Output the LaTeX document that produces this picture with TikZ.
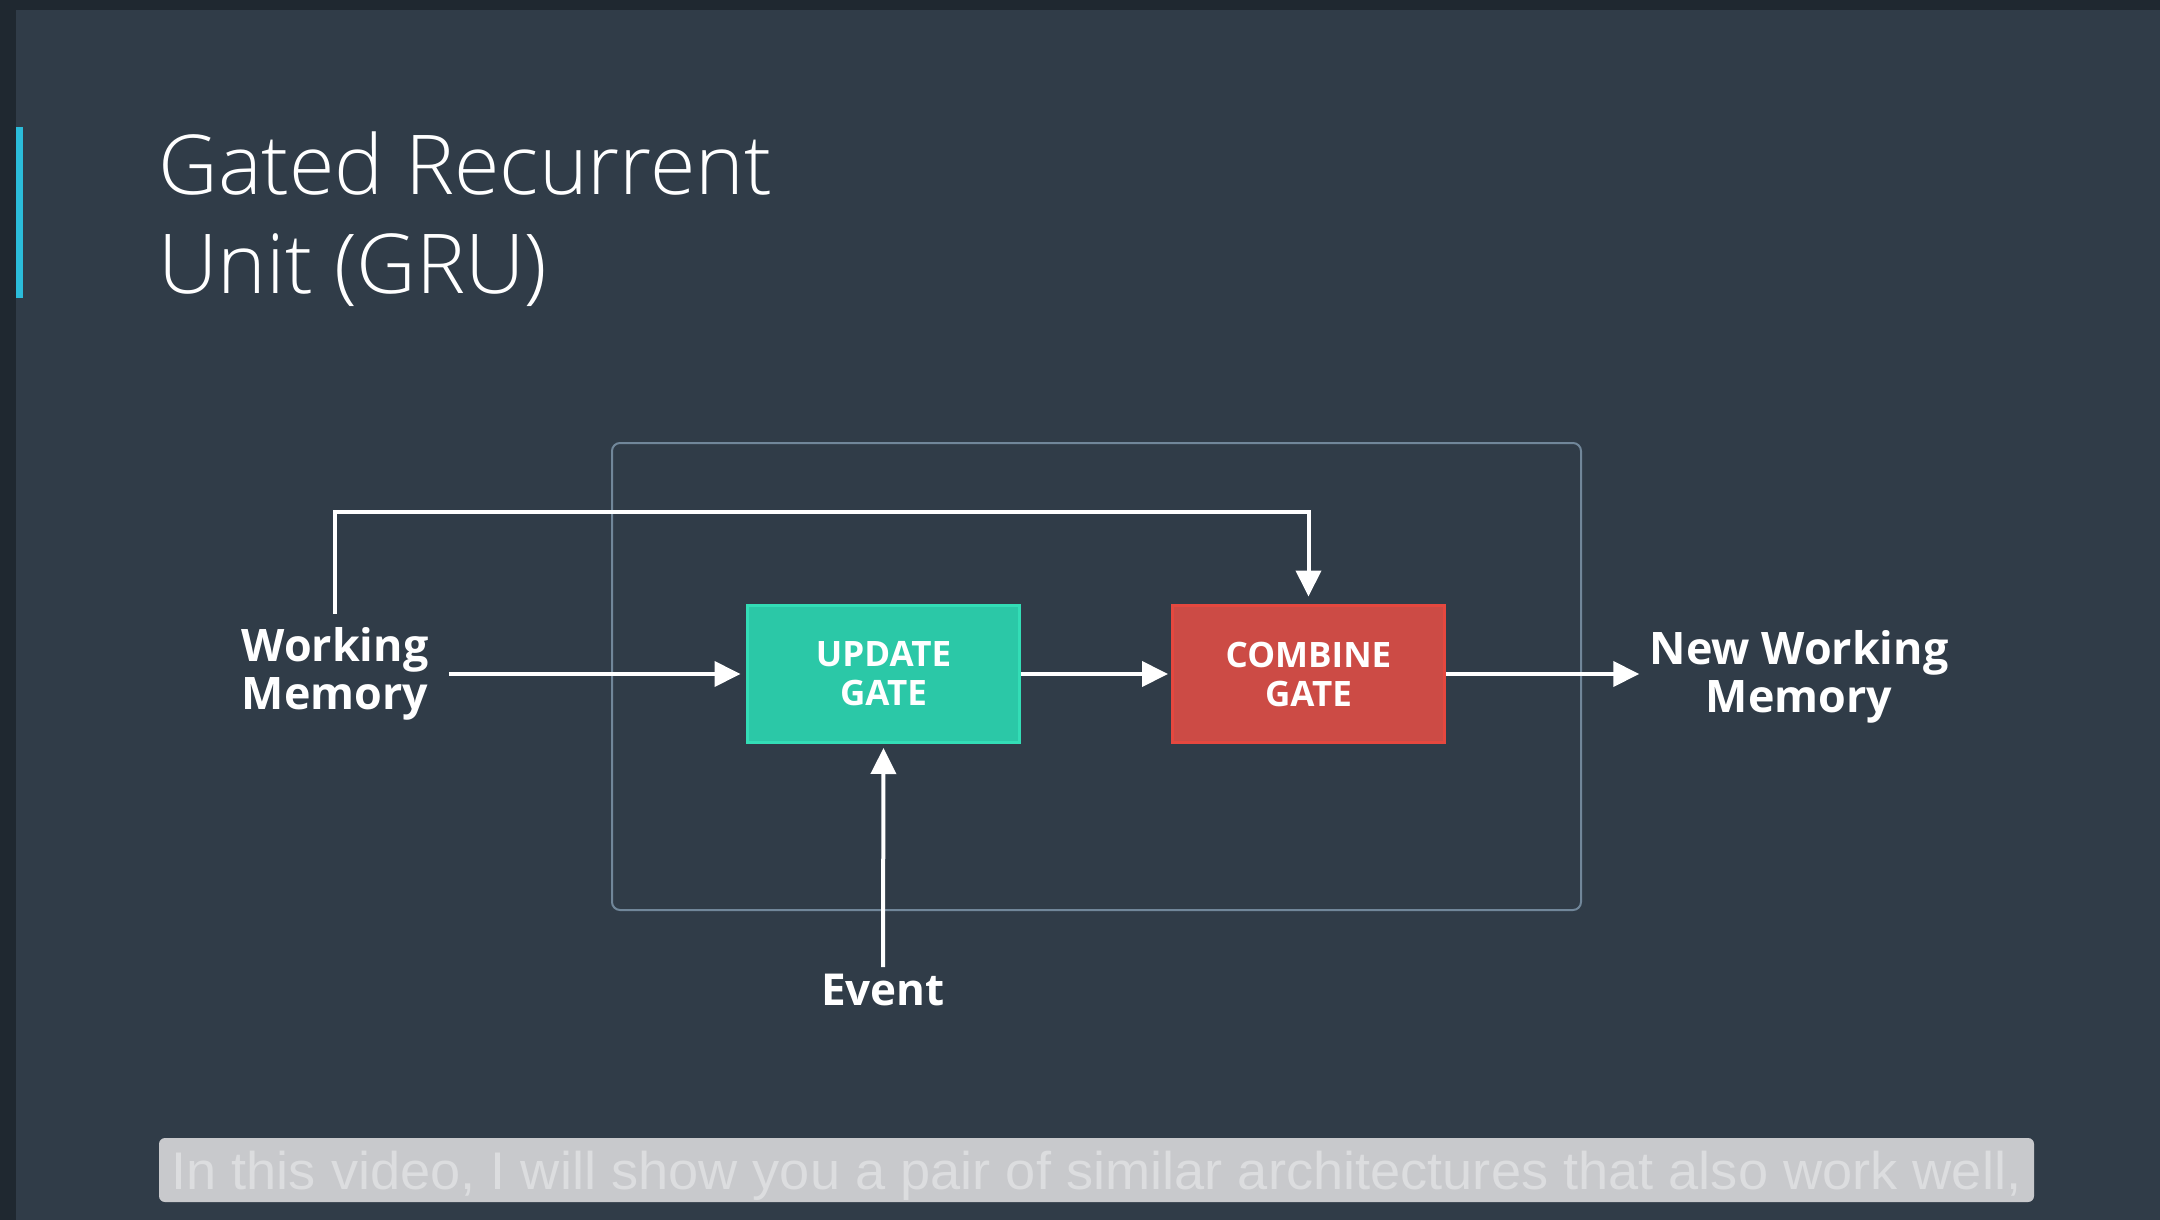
\documentclass[tikz,border=0pt]{standalone}
\usepackage{fontspec}
\usepackage{graphicx}
\usetikzlibrary{arrows.meta}
\setmainfont{Open Sans}
\IfFontExistsTF{Open Sans Light}{\newfontfamily\titlefont{Open Sans Light}}{\newfontfamily\titlefont{Open Sans}}
\newfontfamily\capfont{Liberation Sans}
\definecolor{bgc}{HTML}{303C48}
\definecolor{darkc}{HTML}{1F2830}
\definecolor{cyanc}{HTML}{2BBCDA}
\definecolor{framec}{HTML}{71879A}
\definecolor{tealc}{HTML}{2BC8A7}
\definecolor{tealb}{HTML}{33DDB6}
\definecolor{redc}{HTML}{CC4B45}
\definecolor{redb}{HTML}{E5483F}
\definecolor{barc}{HTML}{C8C9CC}
\definecolor{bartext}{HTML}{DCDDDF}
\tikzset{
  arr/.style={draw=white, line width=2pt, -{Triangle[length=13pt,width=12.5pt]}},
  gate/.style={line width=1.5pt, minimum width=136pt, minimum height=68.5pt, inner sep=0pt,
    align=center, text=white, font=\bfseries\fontsize{17.5pt}{19.5pt}\selectfont},
  lbl/.style={align=center, text=white, font=\bfseries\fontsize{22.4pt}{24pt}\selectfont}
}
\begin{document}
\begin{tikzpicture}[x=0.5pt,y=-0.5pt]
\useasboundingbox (0,0) rectangle (2160,1220);
\fill[bgc] (0,0) rectangle (2160,1220);
\fill[darkc] (0,0) rectangle (2160,10);
\fill[darkc] (0,0) rectangle (16,1220);
\fill[cyanc] (16,127) rectangle (23,298);

\node[anchor=north west, inner sep=0pt, align=left, text=white,
  font=\titlefont\fontsize{41.3pt}{49.5pt}\selectfont] (title) at (158,131)
  {Gated Recurrent\\Unit (GRU)};

\node[draw=framec, line width=1pt, rounded corners=4pt, minimum width=484.5pt,
  minimum height=233.5pt, inner sep=0pt] (frame) at (1096.5,676.5) {};

\node[gate, fill=tealc, draw=tealb] (upd) at (883.5,674) {UPDATE\\GATE};
\node[gate, fill=redc, draw=redb] (comb) at (1308.5,674) {COMBINE\\GATE};

\node[lbl, inner xsep=10pt] (wm) at (335,674) {Working\\Memory};
\node[lbl, inner xsep=5pt] (nwm) at (1799,677) {New Working\\Memory};
\node[lbl, inner ysep=3pt, anchor=base, font=\bfseries\fontsize{22pt}{24pt}\selectfont] (ev) at (883,1005) {Event};

\coordinate (topc) at (0,512);
\draw[arr, shorten >=2.75pt] (wm.east |- upd.west) -- (upd.west);
\draw[arr, shorten >=1.5pt] (upd.east) -- (comb.west);
\draw[arr] (comb.east) -- (comb.east -| nwm.west);
\draw[arr, shorten >=2pt] (ev.north) -- (upd.south);
\draw[arr, shorten <=3.5pt, shorten >=3.75pt] (wm.north) -- (wm.north |- topc) -| (comb.north);

\node[fill=barc, rounded corners=3pt, minimum width=937.5pt, minimum height=32pt,
  inner sep=0pt, text=bartext, text depth=0pt,
  font=\capfont\fontsize{26.5pt}{30pt}\selectfont] (sub) at (1096.5,1170)
  {\resizebox{925pt}{\height}{In this video, I will show you a pair of similar architectures that also work well,}};
\end{tikzpicture}
\end{document}
